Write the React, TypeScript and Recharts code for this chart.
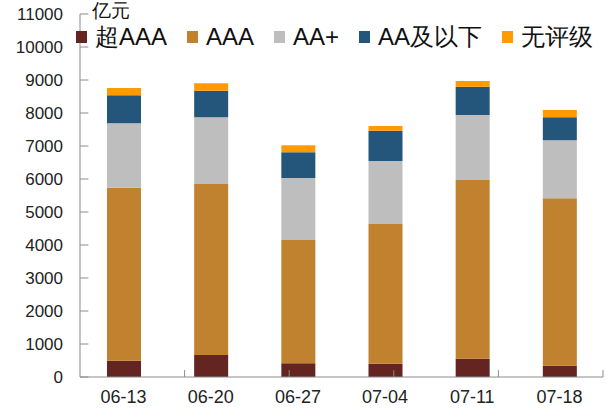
import React from 'react'
import { BarChart, Bar, XAxis, YAxis, Legend, ReferenceLine } from 'recharts'

// Weekly issuance by rating, 亿元
const dates = ['06-13', '06-20', '06-27', '07-04', '07-11', '07-18']
const superAAA = [490, 667, 414, 404, 556, 343]
const aaa = [5246, 5181, 3738, 4232, 5414, 5071]
const aaPlus = [1952, 2021, 1878, 1909, 1969, 1758]
const aaBelow = [848, 808, 778, 920, 859, 697]
const unrated = [222, 222, 212, 141, 172, 222]

const yTicks = [0, 1000, 2000, 3000, 4000, 5000, 6000, 7000, 8000, 9000, 10000, 11000]
const catEdges = [1, 2, 3, 4, 5, 6]

const SERIES = [
  { key: 'superAAA', name: '超AAA', color: '#632422' },
  { key: 'aaa', name: 'AAA', color: '#C0822F' },
  { key: 'aaPlus', name: 'AA+', color: '#BEBEBE' },
  { key: 'aaBelow', name: 'AA及以下', color: '#24557B' },
  { key: 'unrated', name: '无评级', color: '#FF9A00' },
]

const data = dates.map((d, i) => ({
  date: d,
  superAAA: superAAA[i],
  aaa: aaa[i],
  aaPlus: aaPlus[i],
  aaBelow: aaBelow[i],
  unrated: unrated[i],
}))

const FONT = '"Liberation Sans", Arial, sans-serif'
const AXIS = '#8c8c8c'

const LegendRow = () => (
  <div style={{ display: 'flex', alignItems: 'center', fontFamily: FONT, fontSize: 24, color: '#111' }}>
    {SERIES.map((s) => (
      <div key={s.key} style={{ display: 'flex', alignItems: 'center', marginRight: 20 }}>
        <span style={{ width: 11, height: 12, background: s.color, marginRight: 8, display: 'inline-block' }} />
        <span style={{ lineHeight: '26px' }}>{s.name}</span>
      </div>
    ))}
  </div>
)

export default function App() {
  return (
    <div style={{ position: 'absolute', left: 0, top: 0, width: 616, height: 411, background: '#fff' }}>
      <BarChart
        width={616}
        height={411}
        data={data}
        margin={{ top: 14, right: 13, bottom: 4, left: 0 }}
        barSize={34}
      >
        <XAxis
          dataKey="date"
          height={30}
          tickLine={false}
          axisLine={{ stroke: AXIS }}
          tickSize={0}
          tickMargin={13}
          tick={{ fill: '#222', fontSize: 18, fontFamily: FONT }}
        />
        <XAxis xAxisId="grid" type="number" domain={[0, 6]} hide allowDataOverflow />
        <YAxis
          width={80}
          domain={[0, 11000]}
          ticks={yTicks}
          interval={0}
          tickLine={false}
          axisLine={{ stroke: AXIS }}
          tickSize={0}
          tickMargin={17}
          tick={{ fill: '#222', fontSize: 17, fontFamily: FONT }}
          label={{
            content: ({ viewBox }: any) => (
              <text
                x={viewBox.x + viewBox.width + 12}
                y={viewBox.y + 3}
                fontSize={19}
                fontFamily={FONT}
                fill="#111"
              >
                亿元
              </text>
            ),
          }}
        />
        {yTicks.map((t) => (
          <ReferenceLine
            key={`yt-${t}`}
            xAxisId="grid"
            segment={[{ x: 0, y: t }, { x: 0.08, y: t }]}
            stroke={AXIS}
            ifOverflow="visible"
          />
        ))}
        {catEdges.map((c) => (
          <ReferenceLine
            key={`xt-${c}`}
            xAxisId="grid"
            segment={[{ x: c, y: 0 }, { x: c, y: 210 }]}
            stroke={AXIS}
            ifOverflow="visible"
          />
        ))}
        {SERIES.map((s) => (
          <Bar key={s.key} dataKey={s.key} name={s.name} stackId="a" fill={s.color} isAnimationActive={false} />
        ))}
        <Legend
          layout="horizontal"
          verticalAlign="middle"
          align="center"
          wrapperStyle={{ top: 24, left: 76, width: 540 }}
          content={() => <LegendRow />}
        />
      </BarChart>
    </div>
  )
}
